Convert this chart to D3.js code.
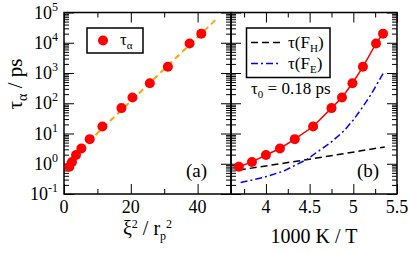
<!DOCTYPE html>
<html>
<head>
<meta charset="utf-8">
<script src="https://cdn.jsdelivr.net/npm/d3@7"></script>
<style>
  body { margin: 0; background: #fff; }
  .axis path { display: none; }
  .axis line { stroke: #000; stroke-width: 1; }
</style>
</head>
<body>
<div id="chart"></div>
<script>
// relaxation times (same points in both panels)
const tauAlpha = [0.8, 1.15, 1.95, 3.2, 6.5, 17, 69, 155, 460, 1600, 9500, 20000];
const xiSq = [1.6, 2.4, 3.6, 5.2, 7.7, 11.5, 17.2, 20.5, 25.7, 31.1, 37.6, 41.1];
const invT = [3.69, 3.84, 4.0, 4.16, 4.33, 4.54, 4.75, 4.87, 4.99, 5.11, 5.26, 5.34];

// orange fit in panel (a)
const fitX = [0.8, 45.3];
const fitTau = [1.09, 56000];

// model curves in panel (b)
const fhX = [3.69, 4.5, 5.36];
const fhTau = [0.62, 1.41, 3.6];
const feX = [3.71, 3.97, 4.2, 4.47, 4.6, 4.74, 4.89, 5.0, 5.1, 5.2, 5.34];
const feTau = [0.24, 0.35, 0.57, 1.4, 2.6, 5, 12, 28, 70, 190, 950];

const yMajor = [1e-1, 1e0, 1e1, 1e2, 1e3, 1e4, 1e5];
const yExp = ['-1', '0', '1', '2', '3', '4', '5'];
const aMajor = [0, 20, 40];
const aMinor = [10, 30, 50];
const bMajor = [4, 4.5, 5, 5.5];
const bMinor = [3.75, 4.25, 4.75, 5.25];

const width = 409, height = 253;
const yTop = 12.5, yBottom = 194;
const aLeft = 64, aRight = 231, bRight = 397;

const svg = d3.select('#chart').append('svg')
    .attr('width', width).attr('height', height)
    .attr('font-family', '"Liberation Serif", "Times New Roman", "DejaVu Serif", serif');

let y = d3.scaleLog().domain([1e-1, 1e5]).range([yBottom, yTop]);
let xa = d3.scaleLinear().domain([0, 50]).range([aLeft, aRight]);
let xb = d3.scaleLinear().domain([3.6, 5.5]).range([aRight, bRight]);

let yMinor = [];
for (let k = -1; k < 5; k++) {
  for (let m = 2; m < 10; m++) yMinor.push(m * Math.pow(10, k));
}

function ticks(axis, vals, size, transform) {
  svg.append('g').attr('class', 'axis').attr('transform', transform)
      .call(axis.tickValues(vals).tickSize(-size).tickFormat(''));
}

function frame(x0, x1, xs, major, minor) {
  ticks(d3.axisBottom(xs), major, 10, 'translate(0,' + yBottom + ')');
  ticks(d3.axisBottom(xs), minor, 5, 'translate(0,' + yBottom + ')');
  ticks(d3.axisTop(xs), major, 10, 'translate(0,' + yTop + ')');
  ticks(d3.axisTop(xs), minor, 5, 'translate(0,' + yTop + ')');
  ticks(d3.axisLeft(y), yMajor, 10, 'translate(' + x0 + ',0)');
  ticks(d3.axisLeft(y), yMinor, 5, 'translate(' + x0 + ',0)');
  ticks(d3.axisRight(y), yMajor, 10, 'translate(' + x1 + ',0)');
  ticks(d3.axisRight(y), yMinor, 5, 'translate(' + x1 + ',0)');
  svg.append('rect')
      .attr('x', x0).attr('y', yTop)
      .attr('width', x1 - x0).attr('height', yBottom - yTop)
      .attr('fill', 'none').attr('stroke', '#000').attr('stroke-width', 1.5);
}

frame(aLeft, aRight, xa, aMajor, aMinor);
frame(aRight, bRight, xb, bMajor, bMinor);

// y tick labels 10^n
yMajor.forEach(function(v, i) {
  let t = svg.append('text')
      .attr('x', 58).attr('y', y(v) + 6)
      .attr('text-anchor', 'end')
      .style('font-size', '18px');
  t.append('tspan').text('10');
  t.append('tspan').attr('dy', -8).style('font-size', '12px').text(yExp[i]);
});

// x tick labels
aMajor.forEach(function(v) {
  svg.append('text').attr('x', xa(v)).attr('y', 213)
      .attr('text-anchor', 'middle').style('font-size', '18px').text(v);
});
bMajor.forEach(function(v) {
  svg.append('text').attr('x', xb(v)).attr('y', 213)
      .attr('text-anchor', 'middle').style('font-size', '18px').text(v);
});

// axis titles
let yl = svg.append('text')
    .attr('transform', 'translate(22,' + 84 + ') rotate(-90)')
    .attr('text-anchor', 'middle')
    .style('font-size', '21px');
yl.append('tspan').text('τ');
yl.append('tspan').attr('dy', 5).style('font-size', '14px').text('α');
yl.append('tspan').attr('dy', -5).text(' / ps');

let xal = svg.append('text')
    .attr('x', (aLeft + aRight) / 2).attr('y', 235)
    .attr('text-anchor', 'middle')
    .style('font-size', '20px');
xal.append('tspan').text('ξ');
xal.append('tspan').attr('dy', -7).style('font-size', '12px').text('2');
xal.append('tspan').attr('dy', 7).text(' / r');
xal.append('tspan').attr('dy', 5).style('font-size', '12px').text('p');
xal.append('tspan').attr('dy', -12).style('font-size', '12px').text('2');

svg.append('text')
    .attr('x', (aRight + bRight) / 2).attr('y', 243)
    .attr('text-anchor', 'middle')
    .style('font-size', '20px')
    .text('1000 K / T');

// panel (a)
let g = svg.append('g');
let fitLine = d3.line().x(d => xa(d[0])).y(d => y(d[1]));
g.append('path')
    .attr('d', fitLine(d3.zip(fitX, fitTau)))
    .attr('fill', 'none').attr('stroke', '#ffa500')
    .attr('stroke-width', 2).attr('stroke-dasharray', '6,4');
g.selectAll('circle.a').data(d3.zip(xiSq, tauAlpha)).enter()
    .append('circle')
    .attr('cx', d => xa(d[0])).attr('cy', d => y(d[1]))
    .attr('r', 5).attr('fill', '#ff0000');

// panel (b)
let lineB = d3.line().x(d => xb(d[0])).y(d => y(d[1]));
g.append('path')
    .attr('d', lineB(d3.zip(fhX, fhTau)))
    .attr('fill', 'none').attr('stroke', '#000')
    .attr('stroke-width', 1.5).attr('stroke-dasharray', '7,4');
g.append('path')
    .attr('d', lineB(d3.zip(feX, feTau)))
    .attr('fill', 'none').attr('stroke', '#0000ff')
    .attr('stroke-width', 1.5).attr('stroke-dasharray', '7,3,2,3');
g.append('path')
    .attr('d', lineB(d3.zip(invT, tauAlpha)))
    .attr('fill', 'none').attr('stroke', '#ff0000').attr('stroke-width', 1.5);
g.selectAll('circle.b').data(d3.zip(invT, tauAlpha)).enter()
    .append('circle')
    .attr('cx', d => xb(d[0])).attr('cy', d => y(d[1]))
    .attr('r', 5).attr('fill', '#ff0000');

// legend (a)
svg.append('rect').attr('x', 87).attr('y', 28).attr('width', 56).attr('height', 25)
    .attr('fill', '#fff').attr('stroke', '#000').attr('stroke-width', 1.5);
svg.append('circle').attr('cx', 103).attr('cy', 40.5).attr('r', 5).attr('fill', '#ff0000');
let la = svg.append('text').attr('x', 120).attr('y', 45).style('font-size', '17px');
la.append('tspan').text('τ');
la.append('tspan').attr('dy', 4).style('font-size', '11px').text('α');

// legend (b)
svg.append('rect').attr('x', 246.5).attr('y', 28).attr('width', 83.5).attr('height', 49.5)
    .attr('fill', '#fff').attr('stroke', '#000').attr('stroke-width', 1.5);
svg.append('line').attr('x1', 251).attr('x2', 280).attr('y1', 42.5).attr('y2', 42.5)
    .attr('stroke', '#000').attr('stroke-width', 1.5).attr('stroke-dasharray', '7,4');
svg.append('line').attr('x1', 251).attr('x2', 280).attr('y1', 63.5).attr('y2', 63.5)
    .attr('stroke', '#0000ff').attr('stroke-width', 1.5).attr('stroke-dasharray', '7,3,2,3');
[['H', 47.5], ['E', 68.5]].forEach(function(d) {
  let t = svg.append('text').attr('x', 288).attr('y', d[1]).style('font-size', '17px');
  t.append('tspan').text('τ(F');
  t.append('tspan').attr('dy', 4).style('font-size', '11px').text(d[0]);
  t.append('tspan').attr('dy', -4).text(')');
});
let t0 = svg.append('text').attr('x', 251).attr('y', 94).style('font-size', '17px');
t0.append('tspan').text('τ');
t0.append('tspan').attr('dy', 4).style('font-size', '11px').text('0');
t0.append('tspan').attr('dy', -4).text(' = 0.18 ps');

svg.append('text').attr('x', 186).attr('y', 177).style('font-size', '19px').text('(a)');
svg.append('text').attr('x', 357).attr('y', 177).style('font-size', '19px').text('(b)');
</script>
</body>
</html>
